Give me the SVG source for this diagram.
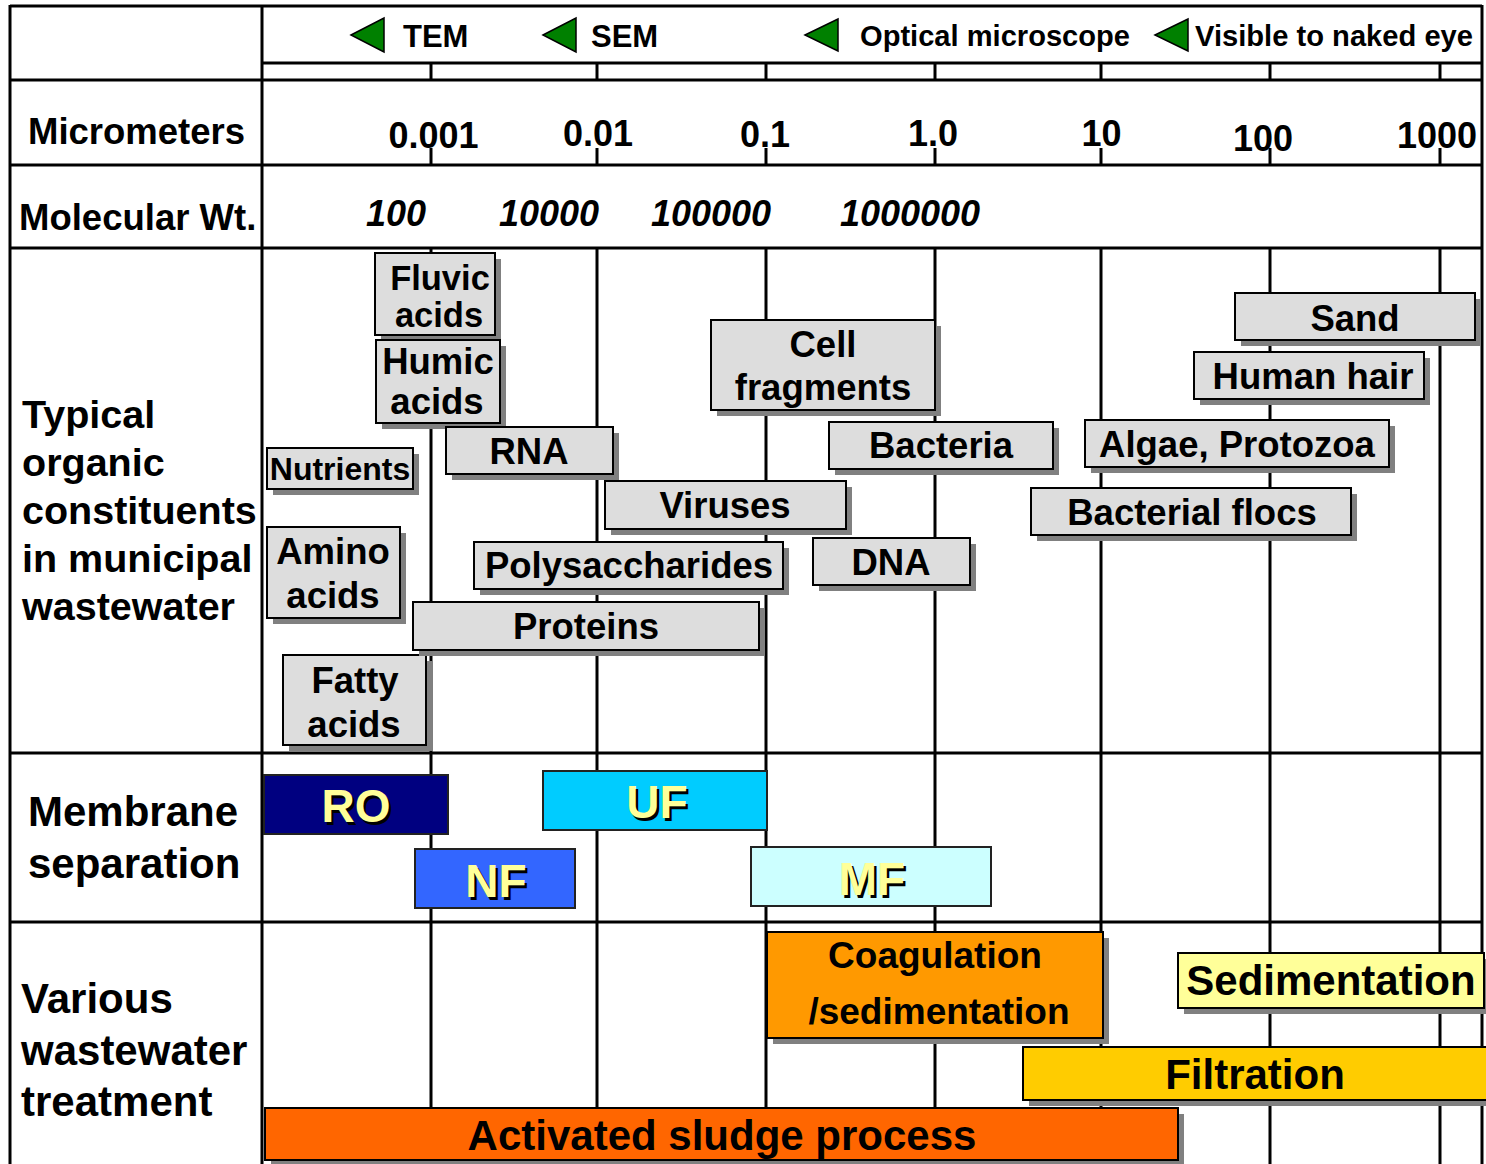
<svg xmlns="http://www.w3.org/2000/svg" width="1486" height="1164" viewBox="0 0 1486 1164">
  <style>
    .t { font-family: "Liberation Sans", Arial, sans-serif; font-weight: bold; fill: #000; }
    .c { text-anchor: middle; }
    .it { font-style: italic; }
    .grid line { stroke: #000; stroke-width: 3; }
    .b { fill: #dddddd; stroke: #000; stroke-width: 2; }
    .sh { fill: #808080; }
    .m { stroke: #222; stroke-width: 2; }
    .ml { font-size: 46px; text-anchor: middle; }
    .ml-s { fill: #000; }
    .ml-f { fill: #ffff99; }
    .arrow { fill: #008000; stroke: #000; stroke-width: 1.5; stroke-linejoin: miter; }
    .s36 { font-size: 36.5px; }
    .s35 { font-size: 34.5px; }
    .s42 { font-size: 42px; }
  </style>

  <rect x="0" y="0" width="1486" height="1164" fill="#ffffff"/>

  <!-- table frame and scale grid -->
  <g id="grid" class="grid">
    <line x1="10" y1="6" x2="1482" y2="6"/>
    <line x1="262" y1="63" x2="1482" y2="63"/>
    <line x1="10" y1="80" x2="1482" y2="80"/>
    <line x1="10" y1="165" x2="1482" y2="165"/>
    <line x1="10" y1="248" x2="1482" y2="248"/>
    <line x1="10" y1="753" x2="1482" y2="753"/>
    <line x1="10" y1="922" x2="1482" y2="922"/>
    <line x1="10" y1="5" x2="10" y2="1164"/>
    <line x1="262" y1="5" x2="262" y2="1164"/>
    <line x1="1482" y1="5" x2="1482" y2="1164"/>
    <!-- ticks in the microscope strip -->
    <line x1="431" y1="63" x2="431" y2="80"/>
    <line x1="597" y1="63" x2="597" y2="80"/>
    <line x1="766" y1="63" x2="766" y2="80"/>
    <line x1="935" y1="63" x2="935" y2="80"/>
    <line x1="1101" y1="63" x2="1101" y2="80"/>
    <line x1="1270" y1="63" x2="1270" y2="80"/>
    <line x1="1440" y1="63" x2="1440" y2="80"/>
    <!-- ticks under the micrometer labels -->
    <line x1="431" y1="148" x2="431" y2="165"/>
    <line x1="597" y1="148" x2="597" y2="165"/>
    <line x1="766" y1="148" x2="766" y2="165"/>
    <line x1="935" y1="148" x2="935" y2="165"/>
    <line x1="1101" y1="148" x2="1101" y2="165"/>
    <line x1="1270" y1="148" x2="1270" y2="165"/>
    <line x1="1440" y1="148" x2="1440" y2="165"/>
    <!-- decade lines through the body -->
    <line x1="431" y1="248" x2="431" y2="1164"/>
    <line x1="597" y1="248" x2="597" y2="1164"/>
    <line x1="766" y1="248" x2="766" y2="1164"/>
    <line x1="935" y1="248" x2="935" y2="1164"/>
    <line x1="1101" y1="248" x2="1101" y2="1164"/>
    <line x1="1270" y1="248" x2="1270" y2="1164"/>
    <line x1="1440" y1="248" x2="1440" y2="1164"/>
  </g>

  <!-- microscope range header -->
  <g id="header-tem">
    <polygon class="arrow" points="351,35 384,18 384,52"/>
    <text class="t" x="403" y="47" font-size="31">TEM</text>
  </g>
  <g id="header-sem">
    <polygon class="arrow" points="543,35 576,18 576,52"/>
    <text class="t" x="591" y="47" font-size="31">SEM</text>
  </g>
  <g id="header-optical">
    <polygon class="arrow" points="805,35 838,19 838,51"/>
    <text class="t" x="860" y="46" font-size="29" textLength="270" lengthAdjust="spacingAndGlyphs">Optical microscope</text>
  </g>
  <g id="header-eye">
    <polygon class="arrow" points="1155,35 1188,19 1188,51"/>
    <text class="t" x="1195" y="46" font-size="29" textLength="278" lengthAdjust="spacingAndGlyphs">Visible to naked eye</text>
  </g>

  <!-- row labels -->
  <g id="row-labels">
    <text class="t" x="28" y="144" font-size="36.5">Micrometers</text>
    <text class="t" x="19" y="230" font-size="36.5">Molecular Wt.</text>
    <text class="t" x="22" y="428" font-size="39.5">Typical</text>
    <text class="t" x="22" y="476" font-size="39.5">organic</text>
    <text class="t" x="22" y="524" font-size="39.5">constituents</text>
    <text class="t" x="22" y="572" font-size="39.5">in municipal</text>
    <text class="t" x="22" y="620" font-size="39.5">wastewater</text>
    <text class="t" x="28" y="826" font-size="42">Membrane</text>
    <text class="t" x="28" y="878" font-size="42">separation</text>
    <text class="t" x="21" y="1013" font-size="42">Various</text>
    <text class="t" x="21" y="1065" font-size="42">wastewater</text>
    <text class="t" x="21" y="1116" font-size="42">treatment</text>
  </g>

  <!-- micrometer scale -->
  <g id="scale-um" class="t c" font-size="36">
    <text x="433.5" y="148">0.001</text>
    <text x="598" y="146">0.01</text>
    <text x="765" y="147">0.1</text>
    <text x="933" y="146">1.0</text>
    <text x="1101.5" y="146">10</text>
    <text x="1263" y="151">100</text>
    <text x="1437" y="148">1000</text>
  </g>

  <!-- molecular weight scale -->
  <g id="scale-mw" class="t c it" font-size="36">
    <text x="396" y="226">100</text>
    <text x="549" y="226">10000</text>
    <text x="711" y="226">100000</text>
    <text x="910" y="226">1000000</text>
  </g>

  <!-- organic constituents -->
  <g id="fluvic-acids">
    <rect class="sh" x="381" y="259" width="120" height="82"/>
    <rect class="b" x="375" y="253" width="120" height="82"/>
    <text class="t c s35" x="440" y="290">Fluvic</text>
    <text class="t c s35" x="439" y="327">acids</text>
  </g>
  <g id="humic-acids">
    <rect class="sh" x="382" y="346" width="124" height="83"/>
    <rect class="b" x="376" y="340" width="124" height="83"/>
    <text class="t c s36" x="438" y="374">Humic</text>
    <text class="t c s36" x="437" y="414">acids</text>
  </g>
  <g id="nutrients">
    <rect class="sh" x="273" y="454" width="146" height="41"/>
    <rect class="b" x="267" y="448" width="146" height="41"/>
    <text class="t c" x="340" y="480" font-size="32">Nutrients</text>
  </g>
  <g id="rna">
    <rect class="sh" x="452" y="433" width="167" height="47"/>
    <rect class="b" x="446" y="427" width="167" height="47"/>
    <text class="t c s36" x="529" y="464">RNA</text>
  </g>
  <g id="amino-acids">
    <rect class="sh" x="273" y="533" width="133" height="91"/>
    <rect class="b" x="267" y="527" width="133" height="91"/>
    <text class="t c s36" x="333" y="564">Amino</text>
    <text class="t c s36" x="333" y="608">acids</text>
  </g>
  <g id="fatty-acids">
    <rect class="sh" x="289" y="661" width="143" height="90"/>
    <rect class="b" x="283" y="655" width="143" height="90"/>
    <text class="t c s36" x="355" y="693">Fatty</text>
    <text class="t c s36" x="354" y="737">acids</text>
  </g>
  <g id="polysaccharides">
    <rect class="sh" x="480" y="548" width="309" height="47"/>
    <rect class="b" x="474" y="542" width="309" height="47"/>
    <text class="t c s36" x="629" y="578">Polysaccharides</text>
  </g>
  <g id="proteins">
    <rect class="sh" x="419" y="608" width="346" height="48"/>
    <rect class="b" x="413" y="602" width="346" height="48"/>
    <text class="t c s36" x="586" y="639">Proteins</text>
  </g>
  <g id="viruses">
    <rect class="sh" x="611" y="487" width="241" height="48"/>
    <rect class="b" x="605" y="481" width="241" height="48"/>
    <text class="t c s36" x="725" y="518">Viruses</text>
  </g>
  <g id="cell-fragments">
    <rect class="sh" x="717" y="326" width="224" height="90"/>
    <rect class="b" x="711" y="320" width="224" height="90"/>
    <text class="t c s36" x="823" y="357">Cell</text>
    <text class="t c s36" x="823" y="400">fragments</text>
  </g>
  <g id="bacteria">
    <rect class="sh" x="835" y="428" width="224" height="47"/>
    <rect class="b" x="829" y="422" width="224" height="47"/>
    <text class="t c s36" x="941" y="458">Bacteria</text>
  </g>
  <g id="dna">
    <rect class="sh" x="819" y="544" width="157" height="47"/>
    <rect class="b" x="813" y="538" width="157" height="47"/>
    <text class="t c s36" x="891" y="575">DNA</text>
  </g>
  <g id="sand">
    <rect class="sh" x="1241" y="299" width="240" height="47"/>
    <rect class="b" x="1235" y="293" width="240" height="47"/>
    <text class="t c s36" x="1355" y="331">Sand</text>
  </g>
  <g id="human-hair">
    <rect class="sh" x="1200" y="358" width="230" height="47"/>
    <rect class="b" x="1194" y="352" width="230" height="47"/>
    <text class="t c s36" x="1313" y="389">Human hair</text>
  </g>
  <g id="algae-protozoa">
    <rect class="sh" x="1091" y="426" width="304" height="47"/>
    <rect class="b" x="1085" y="420" width="304" height="47"/>
    <text class="t c s36" x="1237" y="457">Algae, Protozoa</text>
  </g>
  <g id="bacterial-flocs">
    <rect class="sh" x="1037" y="494" width="320" height="47"/>
    <rect class="b" x="1031" y="488" width="320" height="47"/>
    <text class="t c s36" x="1192" y="525">Bacterial flocs</text>
  </g>

  <!-- membrane separation ranges -->
  <g id="ro">
    <rect class="m" x="264" y="775" width="184" height="59" fill="#000080"/>
    <text class="t ml ml-s" x="358.5" y="824.5">RO</text>
    <text class="t ml ml-f" x="356" y="822">RO</text>
  </g>
  <g id="uf">
    <rect class="m" x="543" y="771" width="224" height="59" fill="#00ccff"/>
    <text class="t ml ml-s" x="659.5" y="820.5">UF</text>
    <text class="t ml ml-f" x="657" y="818">UF</text>
  </g>
  <g id="nf">
    <rect class="m" x="415" y="849" width="160" height="59" fill="#3366ff"/>
    <text class="t ml ml-s" x="498.5" y="899.5">NF</text>
    <text class="t ml ml-f" x="496" y="897">NF</text>
  </g>
  <g id="mf">
    <rect class="m" x="751" y="847" width="240" height="59" fill="#ccffff"/>
    <text class="t ml ml-s" x="874.5" y="897.5">MF</text>
    <text class="t ml ml-f" x="872" y="895">MF</text>
  </g>

  <!-- treatment processes -->
  <g id="coagulation">
    <rect class="sh" x="773" y="938" width="336" height="106"/>
    <rect x="767" y="932" width="336" height="106" fill="#ff9900" stroke="#000" stroke-width="2"/>
    <text class="t c" x="935" y="968" font-size="37">Coagulation</text>
    <text class="t c" x="939" y="1024" font-size="37">/sedimentation</text>
  </g>
  <g id="sedimentation">
    <rect class="sh" x="1184" y="959" width="306" height="55"/>
    <rect x="1178" y="953" width="306" height="55" fill="#ffff99" stroke="#000" stroke-width="2"/>
    <text class="t c s42" x="1331" y="995">Sedimentation</text>
  </g>
  <g id="filtration">
    <rect class="sh" x="1029" y="1053" width="470" height="53"/>
    <rect x="1023" y="1047" width="470" height="53" fill="#ffcc00" stroke="#000" stroke-width="2"/>
    <text class="t c s42" x="1255" y="1089">Filtration</text>
  </g>
  <g id="activated-sludge">
    <rect class="sh" x="271" y="1114" width="913" height="52"/>
    <rect x="265" y="1108" width="913" height="52" fill="#ff6600" stroke="#000" stroke-width="2"/>
    <text class="t c s42" x="722" y="1150">Activated sludge process</text>
  </g>
</svg>
